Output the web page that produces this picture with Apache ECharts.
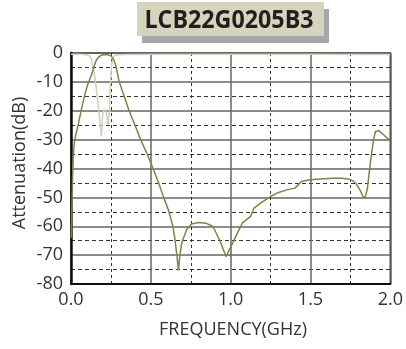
<!DOCTYPE html>
<html><head><meta charset="utf-8">
<script src="https://cdn.jsdelivr.net/npm/echarts@6/dist/echarts.min.js"></script>
<style>html,body{margin:0;padding:0;background:#fff}#c{width:406px;height:349px}</style>
</head><body><div id="c"></div>
<script>
const titleText = 'LCB22G0205B3';
const xAxisName = 'FREQUENCY(GHz)';
const yAxisName = 'Attenuation(dB)';
const xTicks = [0, 0.5, 1.0, 1.5, 2.0];
const yTicks = [0, -10, -20, -30, -40, -50, -60, -70, -80];

// insertion loss (olive)
const s21Freq = [0.002,0.006,0.010,0.014,0.019,0.030,0.045,0.065,0.086,0.105,0.128,0.145,0.159,0.175,0.19,0.21,0.23,0.25,0.262,0.272,0.282,0.302,0.333,0.364,0.401,0.436,0.477,0.514,0.549,0.58,0.611,0.638,0.652,0.665,0.673,0.68,0.693,0.724,0.755,0.796,0.848,0.889,0.93,0.971,1.002,1.043,1.074,1.125,1.146,1.187,1.249,1.29,1.352,1.403,1.425,1.444,1.496,1.56,1.64,1.7,1.743,1.765,1.784,1.81,1.835,1.845,1.856,1.877,1.895,1.907,1.928,1.959,1.99,2.0];
const s21Att = [-64,-53,-43,-36,-31.8,-28.3,-24.9,-19.5,-14.5,-10.8,-7.6,-4.5,-2.4,-1.3,-0.8,-0.5,-0.6,-1.0,-1.8,-2.9,-4.8,-10,-15,-20,-25,-30,-35,-40,-45,-50,-54.5,-60,-65,-71,-75.3,-71,-65.8,-61.2,-59.2,-58.7,-59.0,-60.1,-64.7,-70.5,-67,-62.3,-58.8,-56.6,-53.7,-52,-49.7,-48.5,-47.4,-46.8,-45.5,-44.5,-43.9,-43.6,-43.4,-43.4,-43.7,-44.3,-45.1,-47.5,-50.3,-49.5,-47,-37,-30,-27.2,-26.9,-28.4,-29.9,-30.3];

// return loss (light)
const s11Freq = [0,0.05,0.1,0.117,0.128,0.138,0.15,0.159,0.168,0.175,0.183,0.19,0.195,0.2,0.21,0.22,0.227,0.233,0.24,0.246,0.252,0.26,0.27,0.29,0.35,0.6,1.0,1.5,2.0];
const s11Att = [-0.4,-0.4,-0.6,-1.0,-2.2,-4.5,-8.5,-12.5,-17,-20.5,-24.5,-29,-24,-20.3,-19.4,-20.5,-23,-24.8,-20,-12,-5.5,-2.2,-1.0,-0.6,-0.5,-0.4,-0.4,-0.4,-0.5];

const FONT = '"Open Sans", sans-serif';
const chart = echarts.init(document.getElementById('c'), null, {renderer: 'canvas'});
chart.setOption({
  animation: false,
  backgroundColor: '#fff',
  grid: {left: 71, right: 11, top: 53, bottom: 65, show: true, borderColor: '#222', borderWidth: 1.5, backgroundColor: 'transparent'},
  xAxis: {
    type: 'value', min: xTicks[0], max: xTicks[xTicks.length - 1], interval: xTicks[1] - xTicks[0],
    axisLine: {show: true, onZero: false, lineStyle: {color: '#111', width: 2}},
    axisTick: {show: false},
    axisLabel: {margin: 7, color: '#333', fontFamily: FONT, fontSize: 18, formatter: v => v.toFixed(1)},
    splitLine: {show: true, lineStyle: {color: '#666', width: 1.5, type: 'solid'}},
    minorTick: {show: false, splitNumber: 2},
    minorSplitLine: {show: true, lineStyle: {color: '#333', width: 1, type: [3, 3]}}
  },
  yAxis: {
    type: 'value', min: yTicks[yTicks.length - 1], max: yTicks[0], interval: yTicks[0] - yTicks[1],
    axisLine: {show: true, onZero: false, lineStyle: {color: '#111', width: 2.5}},
    axisTick: {show: false},
    axisLabel: {margin: 8, color: '#333', fontFamily: FONT, fontSize: 18},
    splitLine: {show: true, lineStyle: {color: '#666', width: 1.5, type: 'solid'}},
    minorTick: {show: false, splitNumber: 2},
    minorSplitLine: {show: true, lineStyle: {color: '#333', width: 1, type: [4, 3]}}
  },
  graphic: [
    {type: 'rect', shape: {x: 142, y: 9, width: 187, height: 34}, style: {fill: '#a7a7a9'}, z: 1},
    {type: 'rect', shape: {x: 137, y: 2, width: 187, height: 34}, style: {fill: '#d5d4bd'}, z: 2},
    {type: 'text', x: 229, y: 21, scaleX: 0.93, z: 3, style: {text: titleText, fill: '#231f20', font: 'bold 25px ' + FONT, align: 'center', verticalAlign: 'middle'}},
    {type: 'text', x: 233, y: 330, z: 3, style: {text: xAxisName, fill: '#333', font: '18px ' + FONT, align: 'center', verticalAlign: 'middle'}},
    {type: 'text', x: 20, y: 163, rotation: Math.PI / 2, z: 3, style: {text: yAxisName, fill: '#333', font: '18px ' + FONT, align: 'center', verticalAlign: 'middle'}}
  ],
  series: [
    {type: 'line', data: s11Freq.map((f, i) => [f, s11Att[i]]), showSymbol: false, smooth: false, lineStyle: {color: '#d2d0bc', width: 1.5}, z: 3},
    {type: 'line', data: s21Freq.map((f, i) => [f, s21Att[i]]), showSymbol: false, smooth: false, lineStyle: {color: '#878046', width: 1.5}, z: 4}
  ]
});
</script>
</body></html>
